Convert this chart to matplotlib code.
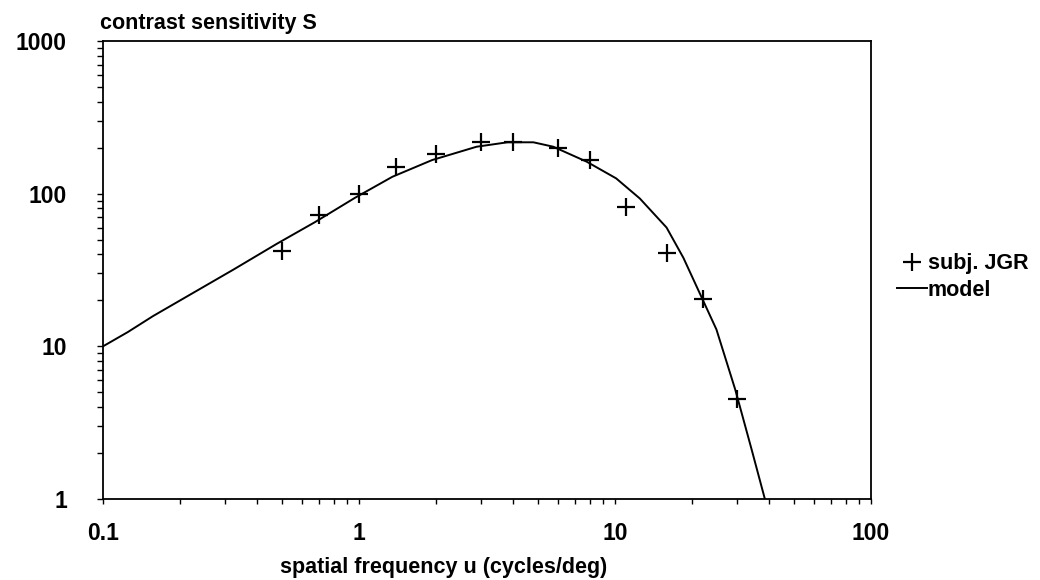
"""Contrast sensitivity of subject JGR against the model curve."""

import matplotlib
matplotlib.use('Agg')
import matplotlib.pyplot as plt
from matplotlib.ticker import LogLocator, NullFormatter

plt.rcParams['font.family'] = ['Liberation Sans', 'DejaVu Sans']

# measured sensitivity, subject JGR
subj_u = [0.5, 0.7, 1.0, 1.4, 2.0, 3.0, 4.0, 6.0, 8.0, 11.0, 16.0, 22.0, 30.0]
subj_s = [42, 72, 99, 150, 182, 218, 218, 198, 167, 82, 41, 20.5, 4.5]

# model curve
model_u = [0.1, 0.125, 0.157, 0.323, 0.477, 0.673, 0.965, 1.35, 1.93, 2.88,
           3.8, 4.8, 5.74, 7.75, 10.1, 12.5, 15.9, 18.5, 21.5, 24.9, 29.5,
           34.2, 38.5]
model_s = [10, 12.4, 15.8, 31.8, 46.9, 65.1, 94, 129, 166, 203,
           217, 217, 203, 162, 126, 93, 60, 38, 22, 12.9, 5.2,
           2.1, 1.0]

xticks = [0.1, 1, 10, 100]
xticklabels = ['0.1', '1', '10', '100']
yticks = [1, 10, 100, 1000]
yticklabels = ['1', '10', '100', '1000']

fig = plt.figure(figsize=(10.4, 5.8), dpi=100)
ax = fig.add_axes([103 / 1040, 1 - 499 / 580, 768 / 1040, 458 / 580])

ax.plot(model_u, model_s, color='black', lw=1.4, label='model', zorder=2)
ax.plot(subj_u, subj_s, ls='none', marker='+', ms=12.5, mew=1.6,
        color='black', label='subj. JGR', zorder=3)

ax.set_xscale('log')
ax.set_yscale('log')
ax.set_xlim(0.1, 100)
ax.set_ylim(1, 1000)

ax.set_xticks(xticks, labels=xticklabels)
ax.set_yticks(yticks, labels=yticklabels)
ax.xaxis.set_minor_locator(LogLocator(base=10, subs=range(2, 10)))
ax.yaxis.set_minor_locator(LogLocator(base=10, subs=range(2, 10)))
ax.xaxis.set_minor_formatter(NullFormatter())
ax.yaxis.set_minor_formatter(NullFormatter())

ax.tick_params(axis='x', which='both', direction='out', length=3.5, width=1,
               pad=13, labelsize=16.5)
ax.tick_params(axis='y', which='both', direction='out', length=4, width=1,
               pad=22, labelsize=16.5)
for lab in ax.get_xticklabels() + ax.get_yticklabels():
    lab.set_fontweight('bold')

for spine in ax.spines.values():
    spine.set_linewidth(1.3)

fig.text(100 / 1040, 1 - 24 / 580, 'contrast sensitivity S', fontsize=15.5,
         fontweight='bold', va='center', ha='left')
fig.text(444 / 1040, 1 - 568 / 580, 'spatial frequency u (cycles/deg)',
         fontsize=15.5, fontweight='bold', va='center', ha='center')

handles, labels = ax.get_legend_handles_labels()
fig.legend(handles[::-1], labels[::-1], loc='center left',
           bbox_to_anchor=(886 / 1040, 1 - 277 / 580), frameon=False,
           handlelength=1.4, handletextpad=0.05, labelspacing=0.25,
           borderpad=0, prop={'size': 15.5, 'weight': 'bold'})

fig.savefig('out.png', dpi=100)
